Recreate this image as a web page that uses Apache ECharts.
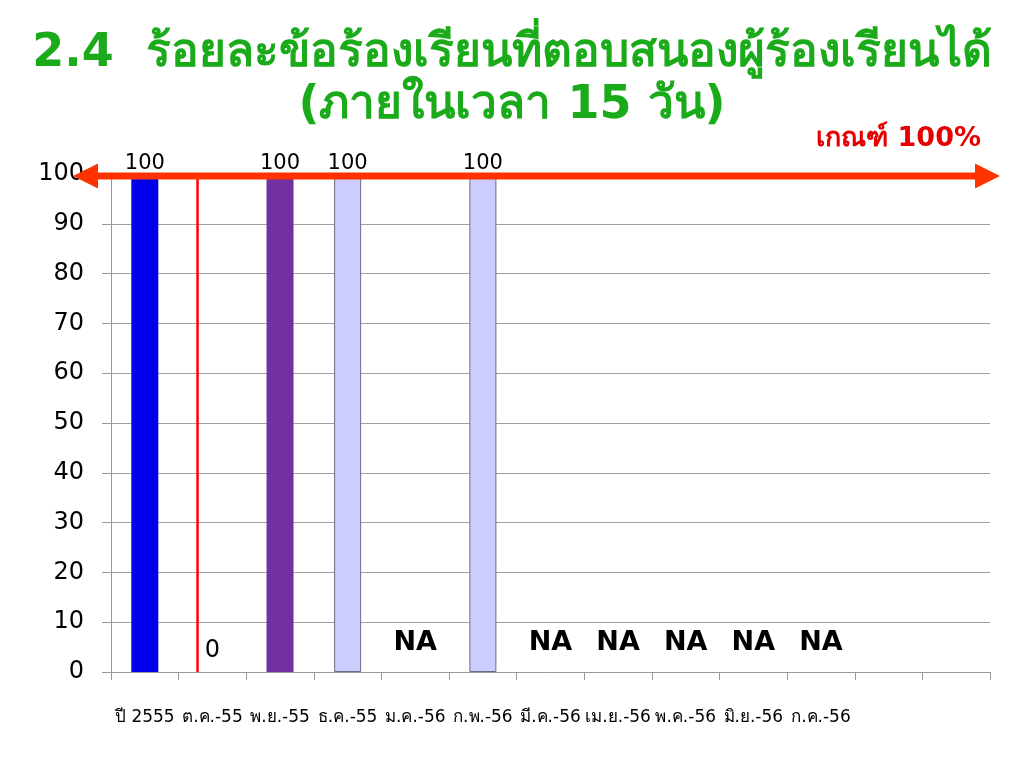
<!DOCTYPE html>
<html>
<head>
<meta charset="utf-8">
<script src="https://cdn.jsdelivr.net/npm/echarts@6/dist/echarts.min.js"></script>
<style>html,body{margin:0;padding:0;background:#fff;}#c{width:1024px;height:768px;}</style>
</head>
<body>
<div id="c"></div>
<script>
const titleText = '2.4  ร้อยละข้อร้องเรียนที่ตอบสนองผู้ร้องเรียนได้\n(ภายในเวลา 15 วัน)';
const criterionText = 'เกณฑ์ 100%';
const categories = ['ปี 2555', 'ต.ค.-55', 'พ.ย.-55', 'ธ.ค.-55', 'ม.ค.-56', 'ก.พ.-56', 'มี.ค.-56', 'เม.ย.-56', 'พ.ค.-56', 'มิ.ย.-56', 'ก.ค.-56', '', ''];
const values = [100, 0, 100, 100, 'NA', 100, 'NA', 'NA', 'NA', 'NA', 'NA', null, null];
const barColors = ['#0000e8', '#ff0000', '#7030a0', '#ccccff', '#ccccff', '#ccccff', '#ccccff', '#ccccff', '#ccccff', '#ccccff', '#ccccff', '#ccccff', '#ccccff'];
const yTicks = [0, 10, 20, 30, 40, 50, 60, 70, 80, 90, 100];
const targetValue = 100;

const chart = echarts.init(document.getElementById('c'));
const barData = values.map((v, i) => {
  if (typeof v !== 'number') return null;
  const item = {
    value: v,
    itemStyle: {
      color: barColors[i],
      borderColor: barColors[i] === '#ccccff' ? '#6a6a80' : barColors[i],
      borderWidth: barColors[i] === '#ccccff' ? 1 : 0
    }
  };
  if (v === 0) item.label = { distance: 9, fontSize: 24 };
  return item;
});
const naData = values.map(v => v === 'NA' ? 0 : null);

chart.setOption({
  animation: false,
  title: [{
    text: titleText,
    left: 'center',
    top: 23,
    textStyle: { color: '#1aaa1a', fontSize: 46, fontWeight: 'bold', lineHeight: 52, fontFamily: 'DejaVu Sans, sans-serif' }
  }, {
    text: criterionText,
    right: 38,
    top: 120,
    textStyle: { color: '#e60000', fontSize: 27, fontWeight: 'bold', fontFamily: 'DejaVu Sans, sans-serif' }
  }],
  grid: { left: 111, right: 34, top: 174, bottom: 96 },
  xAxis: {
    type: 'category',
    data: categories,
    axisLine: { lineStyle: { color: '#999', width: 1 } },
    axisTick: { show: true, length: 8, interval: 0, lineStyle: { color: '#999' } },
    axisLabel: { interval: 0, color: '#000', fontSize: 17, margin: 37, fontFamily: 'DejaVu Sans, sans-serif' }
  },
  yAxis: {
    type: 'value',
    min: 0,
    max: 100,
    interval: 10,
    axisLine: { show: true, lineStyle: { color: '#999' } },
    axisTick: { show: true, length: 9, lineStyle: { color: '#999' } },
    splitLine: { lineStyle: { color: '#a0a0a0' } },
    axisLabel: { color: '#000', fontSize: 24, margin: 27, fontFamily: 'DejaVu Sans, sans-serif',
      formatter: v => yTicks.includes(v) ? String(v) : '' }
  },
  series: [{
    type: 'bar',
    data: barData,
    barWidth: 27,
    label: { show: true, position: 'top', distance: 0, color: '#000', fontSize: 21, fontFamily: 'DejaVu Sans, sans-serif' }
  }, {
    type: 'scatter',
    data: naData,
    symbolSize: 0,
    itemStyle: { opacity: 1 },
    label: { show: true, position: 'inside', offset: [0, -29], formatter: 'NA', color: '#000', fontSize: 27, fontWeight: 'bold', fontFamily: 'DejaVu Sans, sans-serif' }
  }]
});

function drawDecor() {
  const y = chart.convertToPixel({ yAxisIndex: 0 }, targetValue) + 2;
  const y0 = chart.convertToPixel({ yAxisIndex: 0 }, 0);
  const c0 = chart.convertToPixel({ xAxisIndex: 0 }, categories[0]);
  const c1 = chart.convertToPixel({ xAxisIndex: 0 }, categories[1]);
  const band = c1 - c0;
  const gridLeft = c0 - band / 2;
  const gridRight = gridLeft + band * categories.length;
  const xl = gridLeft - 38, xr = gridRight + 10;
  const head = 25, hh = 12.5, th = 3.5;
  const sepX = c1 - band * 0.22;
  chart.setOption({
    graphic: [{
      type: 'line', z: 50,
      shape: { x1: sepX, y1: y - 1, x2: sepX, y2: y0 },
      style: { stroke: '#ff0000', lineWidth: 2.5 }
    }, {
      type: 'polygon', z: 100,
      shape: { points: [
        [xl, y], [xl + head, y - hh], [xl + head, y - th], [xr - head, y - th], [xr - head, y - hh],
        [xr, y], [xr - head, y + hh], [xr - head, y + th], [xl + head, y + th], [xl + head, y + hh]
      ] },
      style: { fill: '#ff3300' }
    }]
  });
}
drawDecor();
</script>
</body>
</html>
